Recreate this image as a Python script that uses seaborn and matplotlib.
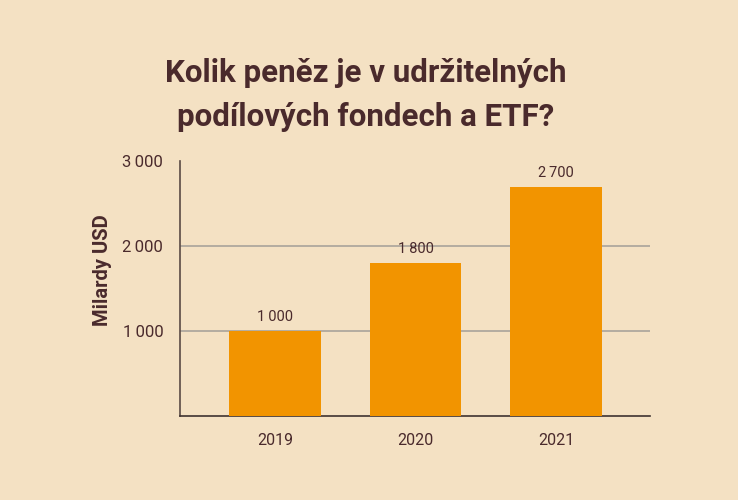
import matplotlib
matplotlib.use("Agg")
import matplotlib.pyplot as plt
import seaborn as sns
import pandas as pd

years = ["2019", "2020", "2021"]
values = [1000, 1800, 2700]
value_labels = ["1\u2009000", "1\u2009800", "2\u2009700"]
y_ticks = [1000, 2000, 3000]
y_tick_labels = ["1\u2009000", "2\u2009000", "3\u2009000"]
grid_lines = [1000, 2000]

title = "Kolik peněz je v udržitelných\npodílových fondech a ETF?"
y_label = "Milardy USD"

bg = "#F4E1C3"
bar_color = "#F29400"
text_color = "#4A2A2C"

df = pd.DataFrame({"rok": years, "hodnota": values})

sns.set_theme(style="white")
plt.rcParams["font.family"] = ["Roboto", "DejaVu Sans"]

fig = plt.figure(figsize=(7.38, 5), dpi=100, facecolor=bg)
ax = fig.add_axes([0.2439, 0.168, 0.6369, 0.510])
ax.set_facecolor(bg)

for g in grid_lines:
    ax.axhline(g, color="#A9A39B", linewidth=1.2, zorder=1)
sns.barplot(data=df, x="rok", y="hodnota", color=bar_color, saturation=1,
            width=0.65, linewidth=0, ax=ax, zorder=3)

ax.set_ylim(0, 3000)
ax.set_xlim(-0.676, 2.669)
ax.set_yticks(y_ticks)
ax.set_yticklabels(y_tick_labels)
ax.tick_params(axis="both", length=0, colors=text_color)
ax.tick_params(axis="x", pad=12, labelsize=11.5)
ax.tick_params(axis="y", pad=12, labelsize=12)

for s in ["top", "right"]:
    ax.spines[s].set_visible(False)
ax.spines["left"].set_color("#5A4A44")
ax.spines["bottom"].set_color("#3E3230")
ax.spines["left"].set_linewidth(1.2)
ax.spines["bottom"].set_linewidth(1.2)

ax.set_xlabel("")
ax.set_ylabel(y_label, fontsize=14.5, fontweight="bold", color=text_color)
ax.yaxis.set_label_coords(-0.145, 0.573)

for i, (v, lab) in enumerate(zip(values, value_labels)):
    ax.annotate(lab, (i, v), xytext=(0, 5), textcoords="offset points",
                ha="center", va="bottom", fontsize=10.5, color=text_color)

fig.text(0.495, 0.81, title, ha="center", va="center", fontsize=22.5,
         fontweight="bold", color=text_color, linespacing=1.6)

fig.savefig("out.png", dpi=100, facecolor=bg)
